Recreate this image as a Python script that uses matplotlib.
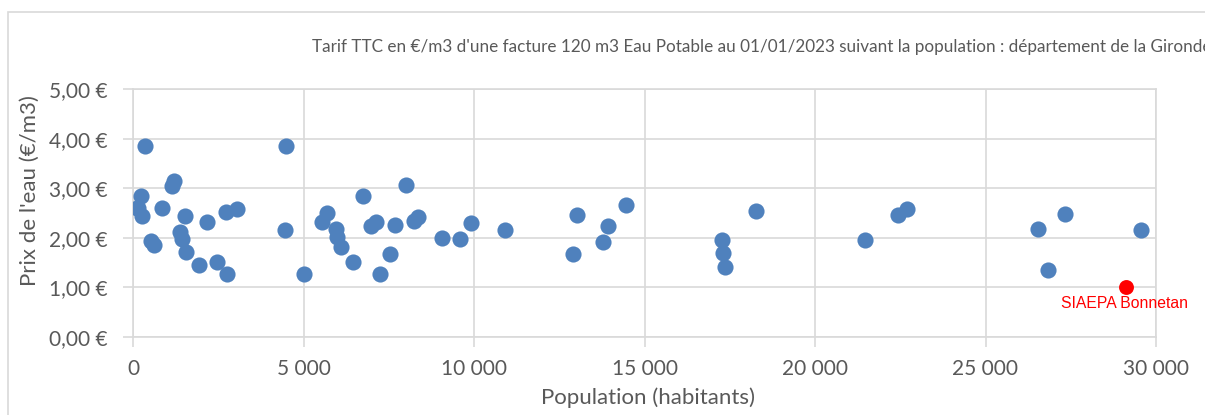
import matplotlib
matplotlib.use('Agg')
import matplotlib.pyplot as plt
import matplotlib.ticker as mticker
from matplotlib.patches import Rectangle
import numpy as np

plt.rcParams['font.family']=['Lato','DejaVu Sans']

# population (habitants) and price (EUR/m3)
population=[352,235,108,136,255,519,626,861,1135,1203,1389,1429,1526,1546,1927,2182,2465,2749,2730,3043,
            4481,4452,5019,5538,5694,5949,5978,6114,6457,6731,6977,7124,7230,7543,7670,8013,8228,8356,
            9060,9578,9901,10910,12915,13032,13775,13942,14450,17268,17288,17347,18257,21464,22444,22687,
            26534,27326,26837,29557]
prix=[3.86,2.84,2.61,2.60,2.44,1.94,1.86,2.61,3.04,3.15,2.12,1.98,2.44,1.72,1.46,2.31,1.52,1.27,2.53,2.59,
      3.86,2.15,1.27,2.31,2.50,2.18,2.01,1.82,1.52,2.84,2.24,2.32,1.27,1.68,2.26,3.07,2.34,2.42,
      2.00,1.98,2.30,2.15,1.68,2.46,1.91,2.24,2.67,1.95,1.70,1.41,2.55,1.95,2.45,2.59,
      2.17,2.48,1.35,2.15]
bonnetan_pop=29116
bonnetan_prix=1.00
bonnetan_nom='SIAEPA Bonnetan'
titre="Tarif TTC en €/m3 d'une facture 120 m3 Eau Potable au 01/01/2023 suivant la population : département de la Gironde"

gris='#595959'
grille='#d9d9d9'

fig=plt.figure(figsize=(12.05,4.15),dpi=100)
# chart frame
fig.patches.append(Rectangle((8/1205,-0.05),1.2,1-12/415+0.05,transform=fig.transFigure,
                             fill=False,edgecolor=grille,linewidth=1.2))
ax=fig.add_axes([133/1205,1-337/415,(1156-133)/1205,(337-89)/415])
ax.scatter(population,prix,s=135,color='#4f81bd',zorder=3,linewidths=0)
ax.scatter([bonnetan_pop],[bonnetan_prix],s=115,color='#ff0000',zorder=4,linewidths=0)
ax.annotate(bonnetan_nom,(bonnetan_pop,bonnetan_prix),xytext=(-1,-11.5),textcoords='offset points',
            ha='center',va='center',color='#ff0000',fontsize=11.3,family=['Liberation Sans','DejaVu Sans'])

ax.set_xlim(0,30000)
ax.set_ylim(0,5)
ax.xaxis.set_major_locator(mticker.MultipleLocator(5000))
ax.yaxis.set_major_locator(mticker.MultipleLocator(1))
ax.xaxis.set_major_formatter(mticker.FuncFormatter(lambda v,p: '{:,.0f}'.format(v).replace(',',' ')))
ax.yaxis.set_major_formatter(mticker.FuncFormatter(lambda v,p: '{:.2f} €'.format(v).replace('.',',')))
ax.grid(True,color=grille,linewidth=1.2,zorder=0)
for s in ax.spines.values():
    s.set_color(grille)
    s.set_linewidth(1.2)
ax.tick_params(axis='both',colors=grille,labelcolor=gris,labelsize=15,length=7,width=1.2)
ax.tick_params(axis='x',pad=9)
ax.tick_params(axis='y',pad=11)

fig.text(648/1205,1-398/415,'Population (habitants)',fontsize=16,color=gris,ha='center',va='center')
fig.text(30/1205,1-191/415,"Prix de l'eau (€/m3)",fontsize=16,color=gris,ha='center',va='center',rotation=90)
fig.text(312/1205,1-47/415,titre,fontsize=12.3,color=gris,va='center',ha='left')

plt.savefig('out.png',dpi=100)
plt.close()
